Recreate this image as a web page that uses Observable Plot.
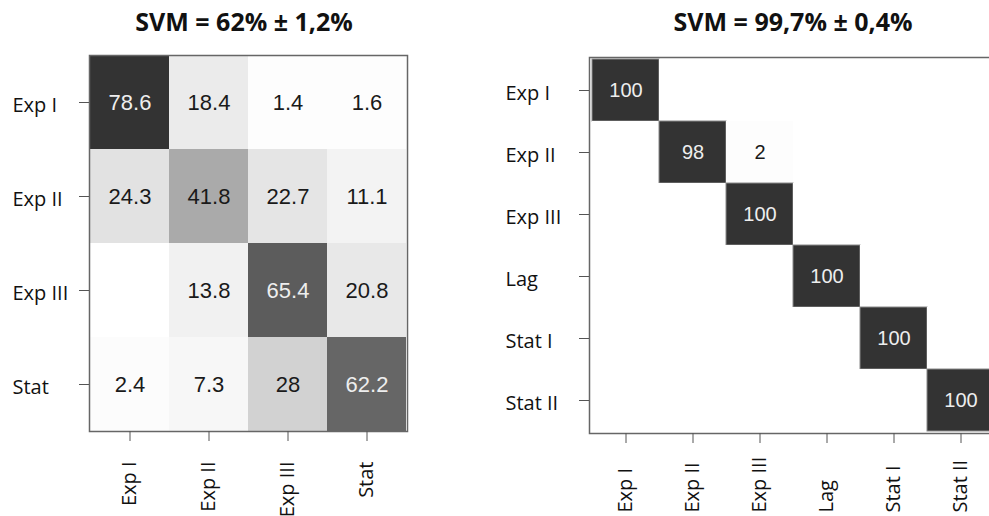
<!DOCTYPE html>
<html>
<head>
<meta charset="utf-8">
<script src="https://cdn.jsdelivr.net/npm/d3@7"></script>
<script src="https://cdn.jsdelivr.net/npm/@observablehq/plot@0.6"></script>
<style>
  html, body { margin: 0; padding: 0; background: #fff; }
  #wrap { position: relative; width: 989px; height: 516px; overflow: hidden; background: #fff; }
  .panel { position: absolute; top: 0; overflow: hidden; }
  .panel svg { max-width: none !important; }
  .title { position: absolute; font-family: "Open Sans", sans-serif; font-weight: 700; font-size: 25px;
           color: #111; white-space: nowrap; transform: translateX(-50%); line-height: 1; }
</style>
</head>
<body>
<div id="wrap">
  <div class="title" style="left:244px; top:9px;">SVM = 62% ± 1,2%</div>
  <div class="title" style="left:793px; top:9px;">SVM = 99,7% ± 0,4%</div>
  <div id="left" class="panel" style="left:0; width:460px; height:516px;"></div>
  <div id="right" class="panel" style="left:480px; width:509px; height:516px;"></div>
</div>
<script>
// Four-class confusion matrix (rows: true class, columns: predicted class, % of row)
const fourClasses = ["Exp I", "Exp II", "Exp III", "Stat"];
const fourRows = [
  [78.6, 18.4, 1.4, 1.6],
  [24.3, 41.8, 22.7, 11.1],
  [0, 13.8, 65.4, 20.8],
  [2.4, 7.3, 28, 62.2]
];

// Six-class confusion matrix
const sixClasses = ["Exp I", "Exp II", "Exp III", "Lag", "Stat I", "Stat II"];
const sixRows = [
  [100, 0, 0, 0, 0, 0],
  [0, 98, 2, 0, 0, 0],
  [0, 0, 100, 0, 0, 0],
  [0, 0, 0, 100, 0, 0],
  [0, 0, 0, 0, 100, 0],
  [0, 0, 0, 0, 0, 100]
];

// Grey ramp shared by both matrices
const greyStops = [0, 7.3, 13.8, 20.8, 24.3, 28, 41.8, 62.2, 65.4, 78.6, 100];
const greyRamp = ["#ffffff", "#f7f7f7", "#f1f1f1", "#e8e8e8", "#e2e2e2", "#d2d2d2",
                  "#aaaaaa", "#666666", "#5c5c5c", "#333333", "#333333"];

function toCells(classes, rows) {
  const cells = [];
  rows.forEach((row, i) => row.forEach((v, j) => cells.push({actual: classes[i], predicted: classes[j], value: v})));
  return cells;
}

function matrix(classes, rows, opts) {
  const cells = toCells(classes, rows);
  const shown = cells.filter(d => d.value > 0);
  const numFont = "Liberation Sans, Arial, sans-serif";
  const svg = Plot.plot({
    width: opts.width, height: 516,
    marginLeft: opts.marginLeft, marginRight: opts.marginRight,
    marginTop: opts.marginTop, marginBottom: opts.marginBottom,
    style: {fontFamily: "Open Sans, sans-serif", fontSize: "20px", color: "#111", background: "transparent", overflow: "hidden"},
    x: {domain: classes, padding: 0, axis: null},
    y: {domain: classes, padding: 0, axis: null},
    color: {type: "linear", domain: greyStops, range: greyRamp, interpolate: "rgb", clamp: true},
    marks: [
      Plot.cell(cells, {x: "predicted", y: "actual", fill: "value", inset: 0,
        stroke: d => d.value > 90 ? "#8a8a8a" : "none", strokeWidth: 1}),
      Plot.text(shown.filter(d => d.value <= 50), {x: "predicted", y: "actual", text: d => String(d.value),
        fill: "#1a1a1a", fontSize: opts.numSize, fontFamily: numFont}),
      Plot.text(shown.filter(d => d.value > 50), {x: "predicted", y: "actual", text: d => String(d.value),
        fill: "#eeeeee", fontSize: opts.numSize, fontFamily: numFont}),
      Plot.frame({stroke: "#666", strokeWidth: 1.5}),
      // tick marks on the left
      Plot.axisY({anchor: "left", tickSize: 10, tickFormat: () => "", stroke: "#555", label: null}),
      // row labels, left-aligned
      Plot.axisY({anchor: "left", tickSize: 0, tickPadding: 0, textAnchor: "start", dx: opts.yLabelDx, dy: 3,
        fill: "#111", label: null}),
      // tick marks and rotated column labels
      Plot.axisX({anchor: "bottom", tickSize: 10, tickRotate: -90, tickPadding: opts.xPad,
        textAnchor: opts.xAnchor, stroke: "#555", fill: "#111", label: null})
    ]
  });
  svg.style.maxWidth = "none";
  return svg;
}

document.getElementById("left").append(matrix(fourClasses, fourRows, {
  width: 460, marginLeft: 89, marginRight: 53, marginTop: 55, marginBottom: 85,
  numSize: 22, yLabelDx: -77, xPad: 20, xAnchor: "end"
}));

document.getElementById("right").append(matrix(sixClasses, sixRows, {
  width: 520, marginLeft: 109, marginRight: 4, marginTop: 57, marginBottom: 83,
  numSize: 20, yLabelDx: -84, xPad: 69, xAnchor: "start"
}));
</script>
</body>
</html>
